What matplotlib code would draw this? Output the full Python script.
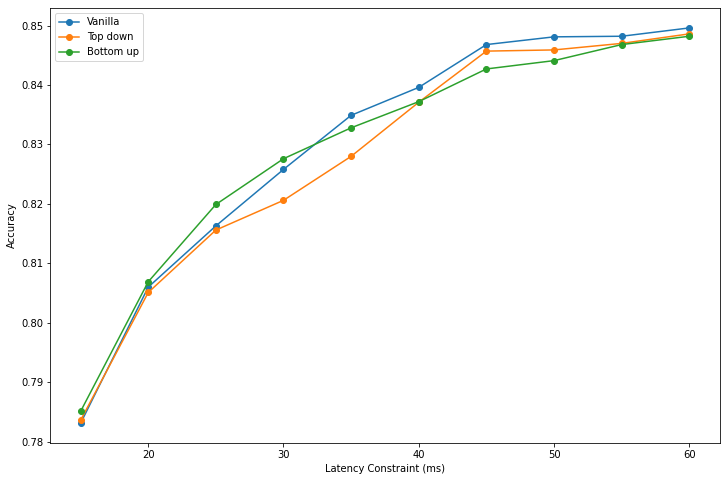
import matplotlib
matplotlib.use("Agg")
import matplotlib.pyplot as plt

latency = [15, 20, 25, 30, 35, 40, 45, 50, 55, 60]
vanilla = [0.7831, 0.8060, 0.8163, 0.8258, 0.8349, 0.8396, 0.8468, 0.8481, 0.8482, 0.8496]
top_down = [0.7836, 0.8051, 0.8156, 0.8206, 0.8280, 0.8371, 0.8457, 0.8459, 0.8470, 0.8486]
bottom_up = [0.7851, 0.8069, 0.8199, 0.8276, 0.8328, 0.8372, 0.8427, 0.8441, 0.8468, 0.8482]

fig, ax = plt.subplots(figsize=(727 / 72, 480 / 72), dpi=72)
ax.plot(latency, vanilla, marker='o', label='Vanilla')
ax.plot(latency, top_down, marker='o', label='Top down')
ax.plot(latency, bottom_up, marker='o', label='Bottom up')
ax.set_xlabel('Latency Constraint (ms)')
ax.set_ylabel('Accuracy')
ax.legend(loc='upper left')
fig.subplots_adjust(left=0.069, right=0.990, top=0.983, bottom=0.077)
fig.savefig('out.png')
